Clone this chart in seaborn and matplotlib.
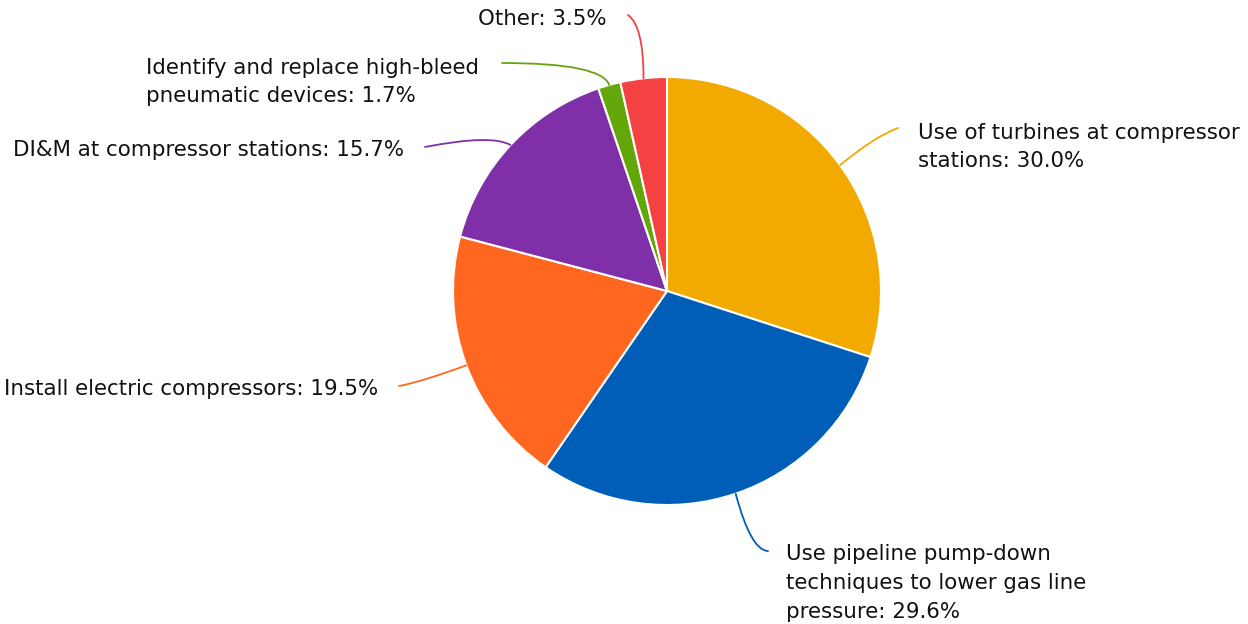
import numpy as np
import matplotlib
matplotlib.use("Agg")
import matplotlib.pyplot as plt
import seaborn as sns

# Data
labels = ["Use of turbines at compressor\nstations: 30.0%",
          "Use pipeline pump-down\ntechniques to lower gas line\npressure: 29.6%",
          "Install electric compressors: 19.5%",
          "DI&M at compressor stations: 15.7%",
          "Identify and replace high-bleed\npneumatic devices: 1.7%",
          "Other: 3.5%"]
values = [30.0, 29.6, 19.5, 15.7, 1.7, 3.5]
colors = ["#F2A900", "#005EB8", "#FF6720", "#7F30A8", "#64A70B", "#F44242"]

sns.set_theme(style="white")
plt.rcParams['font.family'] = ['DejaVu Sans']

W, H = 1248, 624
fig = plt.figure(figsize=(12.48, 6.24), dpi=100)
ax = fig.add_axes([0, 0, 1, 1])

cx, cy, r = 667, H - 291, 214
wedges, _ = ax.pie(values, colors=sns.color_palette(colors), startangle=90,
                   counterclock=False, center=(cx, cy), radius=r,
                   wedgeprops=dict(edgecolor='white', linewidth=1.5), frame=True)
ax.set_xlim(0, W)
ax.set_ylim(0, H)
ax.set_aspect('equal')
ax.axis('off')

# label layout (pixel positions, top-origin): line end, text anchor, alignment, connector angles
layout = [
    ((898, 128), (918, 147), 'left', (20, 40)),
    ((768, 551), (786, 583), 'left', (0, 105)),
    ((399, 386), (378, 389), 'right', (10, 20)),
    ((425, 147), (404, 150), 'right', (11, 150)),
    ((502, 63), (146, 82), 'left', (0, 110)),
    ((628, 15), (607, 19), 'right', (-35, 90)),
]

for w, col, lab, (end, txt, ha, (a, b)) in zip(wedges, colors, labels, layout):
    ang = np.deg2rad((w.theta1 + w.theta2) / 2)
    px, py = cx + r * np.cos(ang), cy + r * np.sin(ang)
    ax.annotate("", xy=(px, py), xytext=(end[0], H - end[1]),
                arrowprops=dict(arrowstyle='-', color=col, lw=1.3,
                                connectionstyle=f"angle3,angleA={a},angleB={b}",
                                shrinkA=0, shrinkB=0))
    ax.text(txt[0], H - txt[1], lab, ha=ha, va='center', fontsize=15.4,
            color='#111111', linespacing=1.55, multialignment='left')

fig.savefig("out.png", dpi=100)
